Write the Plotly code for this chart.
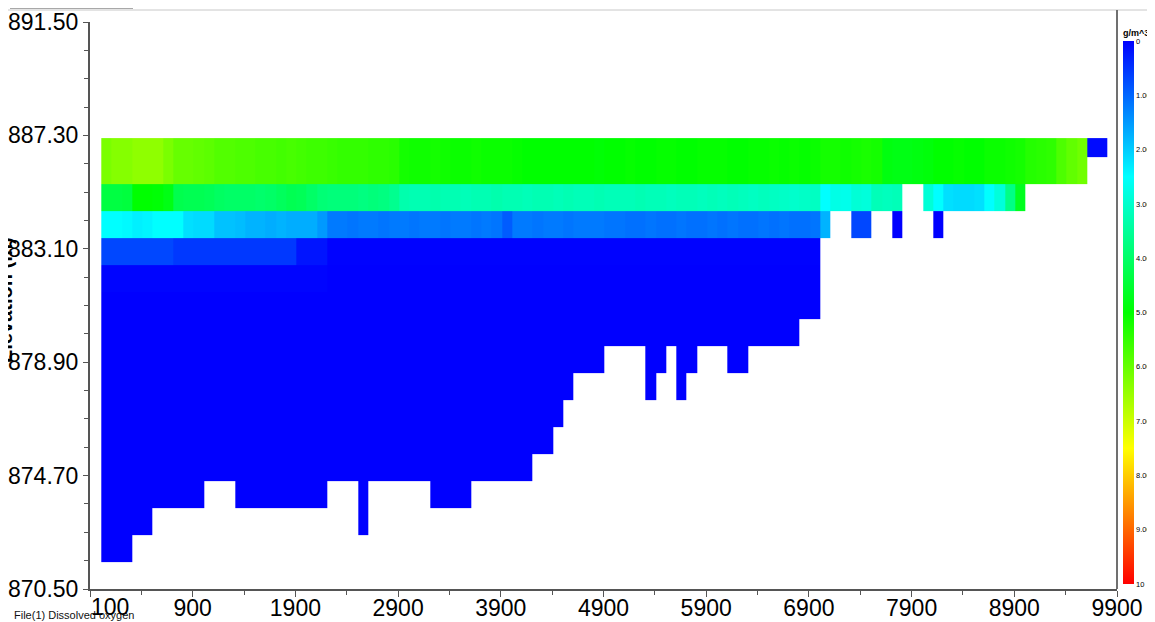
import plotly.graph_objects as go

# -----------------------------
# Model grid: segment edges (distance, m) and layer edges (elevation, m)
# -----------------------------
seg_edges = [10 + 100 * i for i in range(99)]  # 98 segments, 100 m each

layer_edges = [871.5, 872.5, 873.5, 874.5, 875.5, 876.5, 877.5, 878.5,
               879.5, 880.5, 881.5, 882.5, 883.5, 884.5, 885.5, 886.5, 887.2]

# bottom elevation of each segment (deepest active layer)
bed_elev = [
    871.5, 871.5, 871.5, 872.5, 872.5, 873.5, 873.5, 873.5, 873.5, 873.5,
    874.5, 874.5, 874.5, 873.5, 873.5, 873.5, 873.5, 873.5, 873.5, 873.5,
    873.5, 873.5, 874.5, 874.5, 874.5, 872.5, 874.5, 874.5, 874.5, 874.5,
    874.5, 874.5, 873.5, 873.5, 873.5, 873.5, 874.5, 874.5, 874.5, 874.5,
    874.5, 874.5, 875.5, 875.5, 876.5, 877.5, 878.5, 878.5, 878.5, 879.5,
    879.5, 879.5, 879.5, 877.5, 878.5, 879.5, 877.5, 878.5, 879.5, 879.5,
    879.5, 878.5, 878.5, 879.5, 879.5, 879.5, 879.5, 879.5, 880.5, 880.5,
    883.5, 884.5, 884.5, 883.5, 883.5, 884.5, 884.5, 883.5, 885.5, 885.5,
    884.5, 883.5, 884.5, 884.5, 884.5, 884.5, 884.5, 884.5, 884.5, 884.5,
    885.5, 885.5, 885.5, 885.5, 885.5, 885.5, 886.5, 886.5,
]

# dissolved oxygen (g/m^3) by layer
do_surface = [  # 885.5 - 887.2
    6.2, 6.3, 6.3, 6.4, 6.4, 6.4, 6.2, 6.0, 6.0, 5.95,
    5.9, 5.8, 5.8, 5.75, 5.75, 5.7, 5.7, 5.65, 5.7, 5.65,
    5.6, 5.6, 5.55, 5.5, 5.5, 5.5, 5.45, 5.45, 5.4, 5.2,
    5.15, 5.15, 5.2, 5.15, 5.1, 5.1, 5.15, 5.1, 5.1, 5.1,
    5.05, 5.0, 5.0, 5.0, 5.0, 5.0, 5.0, 5.0, 4.95, 5.0,
    5.0, 5.05, 5.0, 5.0, 5.05, 5.05, 5.0, 5.0, 5.05, 5.05,
    5.05, 5.0, 5.0, 5.05, 5.05, 5.1, 5.05, 5.1, 5.05, 5.1,
    5.2, 5.2, 5.15, 5.2, 5.25, 5.2, 4.85, 4.8, 4.8, 4.85,
    4.9, 5.0, 5.0, 5.05, 5.0, 5.0, 5.1, 5.1, 5.15, 5.2,
    5.35, 5.4, 5.45, 5.75, 5.95, 6.1, 0.1, 0.1,
]
do_885 = [  # 884.5 - 885.5
    4.35, 4.35, 4.4, 5.0, 5.0, 4.95, 4.8, 4.25, 4.2, 4.2,
    4.15, 4.05, 4.0, 4.0, 4.0, 3.95, 4.0, 4.1, 4.2, 4.15,
    4.0, 3.85, 3.8, 3.8, 3.8, 3.75, 3.8, 3.75, 3.6, 3.3,
    3.25, 3.25, 3.3, 3.25, 3.25, 3.2, 3.25, 3.25, 3.3, 3.25,
    3.25, 3.2, 3.25, 3.25, 3.2, 3.25, 3.2, 3.2, 3.25, 3.2,
    3.2, 3.2, 3.25, 3.2, 3.2, 3.15, 3.2, 3.2, 3.15, 3.2,
    3.15, 3.2, 3.15, 3.1, 3.15, 3.1, 3.05, 3.0, 3.05, 3.1,
    2.5, 2.75, 2.7, 2.9, 2.85, 3.2, 3.15, 3.2, None, None,
    2.9, 2.5, 2.2, 2.15, 2.15, 2.2, 2.5, 2.85, 3.7, 4.7,
    None, None, None, None, None, None, None, None,
]
do_884 = [  # 883.5 - 884.5
    2.5, 2.5, 2.45, 2.35, 2.4, 2.5, 2.5, 2.5, 2.2, 2.15,
    2.15, 1.9, 1.9, 1.85, 1.75, 1.75, 1.7, 1.75, 1.7, 1.7,
    1.7, 1.5, 1.2, 1.2, 1.15, 1.2, 1.2, 1.15, 1.2, 1.2,
    1.15, 1.2, 1.2, 1.15, 1.2, 1.2, 1.15, 1.2, 1.15, 0.9,
    1.2, 1.2, 1.15, 1.2, 1.2, 1.15, 1.2, 1.2, 1.2, 1.15,
    1.15, 1.1, 1.1, 1.15, 1.1, 1.1, 1.15, 1.1, 1.1, 1.15,
    1.1, 1.15, 1.1, 1.1, 1.15, 1.1, 1.15, 1.1, 1.1, 1.15,
    1.75, None, None, 0.7, 0.7, None, None, 0.0, None, None,
    None, 0.0, None, None, None, None, None, None, None, None,
    None, None, None, None, None, None, None, None,
]
do_883 = [  # 882.5 - 883.5
    0.7, 0.7, 0.7, 0.7, 0.7, 0.7, 0.7, 0.55, 0.55, 0.55,
    0.55, 0.55, 0.55, 0.55, 0.55, 0.55, 0.55, 0.55, 0.55, 0.2,
    0.2, 0.2, 0.02, 0.02, 0.02, 0.02, 0.02, 0.02, 0.02, 0.02,
    0.02, 0.02, 0.02, 0.02, 0.02, 0.02, 0.02, 0.02, 0.02, 0.02,
    0.02, 0.02, 0.02, 0.02, 0.02, 0.02, 0.02, 0.02, 0.02, 0.02,
    0.02, 0.02, 0.02, 0.02, 0.02, 0.02, 0.02, 0.02, 0.02, 0.02,
    0.02, 0.02, 0.02, 0.02, 0.02, 0.02, 0.02, 0.02, 0.02, 0.02,
]
do_882 = [  # 881.5 - 882.5
    0.04, 0.04, 0.04, 0.04, 0.04, 0.04, 0.04, 0.04, 0.04, 0.04,
    0.04, 0.04, 0.04, 0.04, 0.04, 0.04, 0.04, 0.04, 0.04, 0.04,
    0.04, 0.04, 0.0, 0.0, 0.0, 0.0, 0.0, 0.0, 0.0, 0.0,
    0.0, 0.0, 0.0, 0.0, 0.0, 0.0, 0.0, 0.0, 0.0, 0.0,
    0.0, 0.0, 0.0, 0.0, 0.0, 0.0, 0.0, 0.0, 0.0, 0.0,
    0.0, 0.0, 0.0, 0.0, 0.0, 0.0, 0.0, 0.0, 0.0, 0.0,
    0.0, 0.0, 0.0, 0.0, 0.0, 0.0, 0.0, 0.0, 0.0, 0.0,
]
do_deep = 0.0  # everything below 881.5 m is anoxic

x_ticks = [-100, 900, 1900, 2900, 3900, 4900, 5900, 6900, 7900, 8900, 9900]
x_tick_text = ["", "900", "1900", "2900", "3900", "4900", "5900",
               "6900", "7900", "8900", "9900"]
x_first_label = "100"  # drawn left-aligned at the axis origin
y_ticks = [870.5, 874.7, 878.9, 883.1, 887.3, 891.5]
y_tick_text = ["870.50", "874.70", "878.90", "883.10", "887.30", "891.50"]
cb_vals = [0, 1, 2, 3, 4, 5, 6, 7, 8, 9, 10]
cb_text = ["0", "1.00", "2.00", "3.00", "4.00", "5.00", "6.00", "7.00",
           "8.00", "9.00", "10"]

FONT = "Arial, Liberation Sans, sans-serif"

# the page body adds an 8 px margin, so the figure is drawn 8 px in
OFF = 8
W, H = 1155 - OFF, 622 - OFF
# plot area, in screen pixels
L, R, T, B = 90, 1117, 22, 589


def px_x(p):
    return (p - L) / (R - L)


def px_y(p):
    return (B - p) / (B - T)


# -----------------------------
# Build the layer x segment matrix
# -----------------------------
by_layer = {15: do_surface, 14: do_surface, 13: do_885, 12: do_884,
            11: do_883, 10: do_882}
z_do = []
for j in range(len(layer_edges) - 1):
    row = []
    for k in range(len(bed_elev)):
        if layer_edges[j] < bed_elev[k] - 1e-6:
            row.append(None)
            continue
        src = by_layer.get(j)
        row.append(do_deep if src is None else src[k])
    z_do.append(row)

# colour bar runs 0 (top) -> 10 (bottom), so plot the negative value
z_plot = [[None if v is None else -v for v in row] for row in z_do]

fig = go.Figure(go.Heatmap(
    x=seg_edges,
    y=layer_edges,
    z=z_plot,
    customdata=z_do,
    zmin=-10,
    zmax=0,
    colorscale=[[0, "#ff0000"], [0.25, "#ffff00"], [0.5, "#00ff00"],
                [0.75, "#00ffff"], [1, "#0000ff"]],
    hovertemplate="Distance: %{x} m<br>Elevation: %{y} m<br>"
                  "DO: %{customdata:.2f} g/m^3<extra></extra>",
    colorbar=dict(
        thickness=11,
        len=558,
        lenmode="pixels",
        x=px_x(1123),
        xanchor="left",
        xpad=0,
        y=px_y(26),
        yanchor="top",
        ypad=0,
        outlinewidth=0,
        tickmode="array",
        tickvals=[-v for v in cb_vals],
        ticktext=cb_text,
        ticks="",
        ticklabelposition="outside",
        tickfont=dict(family=FONT, size=7.5, color="black"),
        title=dict(text="<b>g/m^3</b>", side="top",
                   font=dict(family=FONT, size=9, color="black")),
    ),
))

# window frame lines
frame = [
    (0, 10, 1155, 10, "#c8c8c8", 1),
    (10, 8, 133, 8, "#a8a8a8", 2),
    (R, 10, R, B, "#707070", 2),
    (1153, 22, 1153, B, "#c0c0c0", 1),
]
for x0, y0, x1, y1, c, w in frame:
    fig.add_shape(type="line", xref="paper", yref="paper",
                  x0=px_x(x0), y0=px_y(y0), x1=px_x(x1), y1=px_y(y1),
                  line=dict(color=c, width=w))

fig.add_annotation(
    xref="paper", yref="paper", x=px_x(18), y=px_y(300),
    xanchor="right", yanchor="middle",
    text="<b>Elevation (m)</b>", textangle=-90, showarrow=False,
    font=dict(family=FONT, size=20, color="black"),
)
fig.add_annotation(
    xref="paper", yref="paper", x=px_x(12), y=px_y(615),
    xanchor="left", yanchor="middle",
    text="File(1) Dissolved oxygen", showarrow=False,
    font=dict(family=FONT, size=11, color="#111"),
)
fig.add_annotation(
    xref="paper", yref="paper", x=px_x(89), y=px_y(592),
    xanchor="left", yanchor="top",
    text=x_first_label, showarrow=False,
    font=dict(family=FONT, size=23, color="black"),
)

axis_common = dict(
    showgrid=False,
    zeroline=False,
    showline=True,
    linecolor="#555555",
    linewidth=2,
    ticks="outside",
    ticklen=6,
    tickcolor="#555555",
    tickfont=dict(family=FONT, size=23, color="black"),
    tickmode="array",
    automargin=False,
)

fig.update_layout(
    width=W,
    height=H,
    autosize=False,
    margin=dict(l=L - OFF, r=W - (R - OFF), t=T - OFF, b=H - (B - OFF),
                autoexpand=False),
    paper_bgcolor="white",
    plot_bgcolor="white",
    xaxis=dict(
        axis_common,
        range=[-100, 9900],
        tickvals=x_ticks,
        ticktext=x_tick_text,
        ticklabelstandoff=-9,
        minor=dict(tickmode="linear", tick0=-100, dtick=500, ticks="outside",
                   ticklen=4, tickcolor="#555555"),
    ),
    yaxis=dict(
        axis_common,
        range=[870.5, 891.5],
        tickvals=y_ticks,
        ticktext=y_tick_text,
        ticklen=5,
        minor=dict(tickmode="linear", tick0=870.5, dtick=1.05, ticks="outside",
                   ticklen=4, tickcolor="#555555"),
    ),
)

fig.write_html("out.html")
